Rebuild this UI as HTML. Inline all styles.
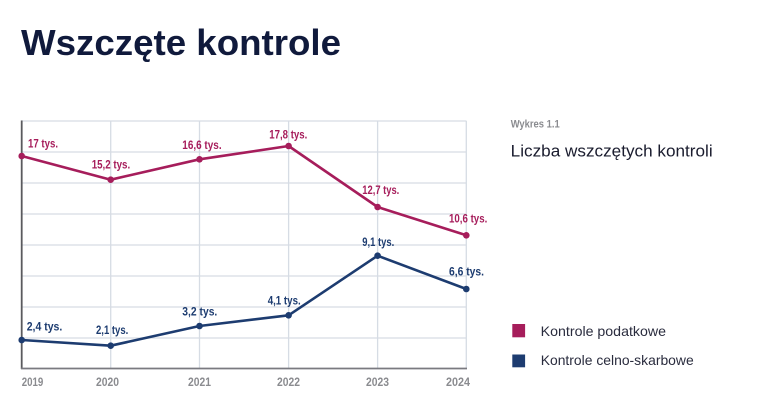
<!DOCTYPE html>
<html><head><meta charset="utf-8"><style>
html,body{margin:0;padding:0;background:#fff;}
body{width:768px;height:411px;overflow:hidden;position:relative;}
svg{position:absolute;left:0;top:0;}
</style></head><body>
<svg width="768" height="411" viewBox="0 0 768 411" xmlns="http://www.w3.org/2000/svg">
<text x="21" y="55" font-family="Liberation Sans, sans-serif" font-weight="bold" font-size="36" fill="#101a3c" textLength="320" lengthAdjust="spacingAndGlyphs">Wszczęte kontrole</text>

<g stroke="#d6dce4" stroke-width="1.3" fill="none">
<line x1="21" y1="121" x2="466.5" y2="121"/>
<line x1="21" y1="152" x2="466.5" y2="152"/>
<line x1="21" y1="183" x2="466.5" y2="183"/>
<line x1="21" y1="214" x2="466.5" y2="214"/>
<line x1="21" y1="245" x2="466.5" y2="245"/>
<line x1="21" y1="276" x2="466.5" y2="276"/>
<line x1="21" y1="307" x2="466.5" y2="307"/>
<line x1="21" y1="338" x2="466.5" y2="338"/>
<line x1="110.7" y1="121" x2="110.7" y2="369"/>
<line x1="199.5" y1="121" x2="199.5" y2="369"/>
<line x1="288.6" y1="121" x2="288.6" y2="369"/>
<line x1="377.6" y1="121" x2="377.6" y2="369"/>
<line x1="466.3" y1="121" x2="466.3" y2="369"/>
</g>
<line x1="21.7" y1="120.5" x2="21.7" y2="369" stroke="#5a5a5e" stroke-width="1.8"/>
<line x1="21" y1="368.5" x2="467" y2="368.5" stroke="#7a7a80" stroke-width="1.8"/>

<polyline points="21.7,156 110.7,179.7 199.5,159.3 288.6,146 377.6,207 466.3,235.3" fill="none" stroke="#a61d5b" stroke-width="2.6" stroke-linejoin="round"/>
<g fill="#a61d5b">
<circle cx="21.7" cy="156" r="3.3"/><circle cx="110.7" cy="179.7" r="3.3"/><circle cx="199.5" cy="159.3" r="3.3"/><circle cx="288.6" cy="146" r="3.3"/><circle cx="377.6" cy="207" r="3.3"/><circle cx="466.3" cy="235.3" r="3.3"/>
</g>
<polyline points="21.7,340 110.7,345.7 199.5,326 288.6,315.3 377.6,255.7 466.3,289" fill="none" stroke="#1d3c70" stroke-width="2.6" stroke-linejoin="round"/>
<g fill="#1d3c70">
<circle cx="21.7" cy="340" r="3.3"/><circle cx="110.7" cy="345.7" r="3.3"/><circle cx="199.5" cy="326" r="3.3"/><circle cx="288.6" cy="315.3" r="3.3"/><circle cx="377.6" cy="255.7" r="3.3"/><circle cx="466.3" cy="289" r="3.3"/>
</g>

<g font-family="Liberation Sans, sans-serif" font-weight="bold" font-size="11.5" fill="#a61d5b" lengthAdjust="spacingAndGlyphs">
<text x="28" y="147.3" textLength="30" lengthAdjust="spacingAndGlyphs">17 tys.</text>
<text x="91.7" y="168.3" textLength="38.5" lengthAdjust="spacingAndGlyphs">15,2 tys.</text>
<text x="182.3" y="149" textLength="39.3" lengthAdjust="spacingAndGlyphs">16,6 tys.</text>
<text x="269.3" y="138.3" textLength="38" lengthAdjust="spacingAndGlyphs">17,8 tys.</text>
<text x="362.3" y="194" textLength="37" lengthAdjust="spacingAndGlyphs">12,7 tys.</text>
<text x="449" y="222.3" textLength="38.3" lengthAdjust="spacingAndGlyphs">10,6 tys.</text>
</g>
<g font-family="Liberation Sans, sans-serif" font-weight="bold" font-size="11.5" fill="#1d3c70">
<text x="362.3" y="246" textLength="32" lengthAdjust="spacingAndGlyphs">9,1 tys.</text>
<text x="26.7" y="330.7" textLength="35.6" lengthAdjust="spacingAndGlyphs">2,4 tys.</text>
<text x="96" y="334" textLength="32.3" lengthAdjust="spacingAndGlyphs">2,1 tys.</text>
<text x="182.3" y="315.3" textLength="35" lengthAdjust="spacingAndGlyphs">3,2 tys.</text>
<text x="267.7" y="304.3" textLength="33" lengthAdjust="spacingAndGlyphs">4,1 tys.</text>
<text x="449" y="275.7" textLength="35" lengthAdjust="spacingAndGlyphs">6,6 tys.</text>
</g>

<g font-family="Liberation Sans, sans-serif" font-weight="bold" font-size="11.5" fill="#8a8b8f">
<text x="21.7" y="386" textLength="21.6" lengthAdjust="spacingAndGlyphs">2019</text>
<text x="96" y="386" textLength="23" lengthAdjust="spacingAndGlyphs">2020</text>
<text x="188" y="386" textLength="23" lengthAdjust="spacingAndGlyphs">2021</text>
<text x="277" y="386" textLength="23" lengthAdjust="spacingAndGlyphs">2022</text>
<text x="366" y="386" textLength="23" lengthAdjust="spacingAndGlyphs">2023</text>
<text x="446" y="386" textLength="24" lengthAdjust="spacingAndGlyphs">2024</text>
</g>

<text x="510.7" y="127.7" font-family="Liberation Sans, sans-serif" font-weight="bold" font-size="11" fill="#8a8b8f" textLength="49" lengthAdjust="spacingAndGlyphs">Wykres 1.1</text>
<text x="510.7" y="156.7" font-family="Liberation Sans, sans-serif" font-size="16.5" fill="#1a1c2e" textLength="202" lengthAdjust="spacingAndGlyphs">Liczba wszczętych kontroli</text>

<rect x="512.3" y="324" width="12.8" height="13.3" fill="#a61d5b"/>
<rect x="512.3" y="354.5" width="12.8" height="12.8" fill="#1d3c70"/>
<text x="540.7" y="336" font-family="Liberation Sans, sans-serif" font-size="14" fill="#2a2c3e" textLength="125.3" lengthAdjust="spacingAndGlyphs">Kontrole podatkowe</text>
<text x="540.7" y="365" font-family="Liberation Sans, sans-serif" font-size="14" fill="#2a2c3e" textLength="153" lengthAdjust="spacingAndGlyphs">Kontrole celno-skarbowe</text>
</svg>
</body></html>
